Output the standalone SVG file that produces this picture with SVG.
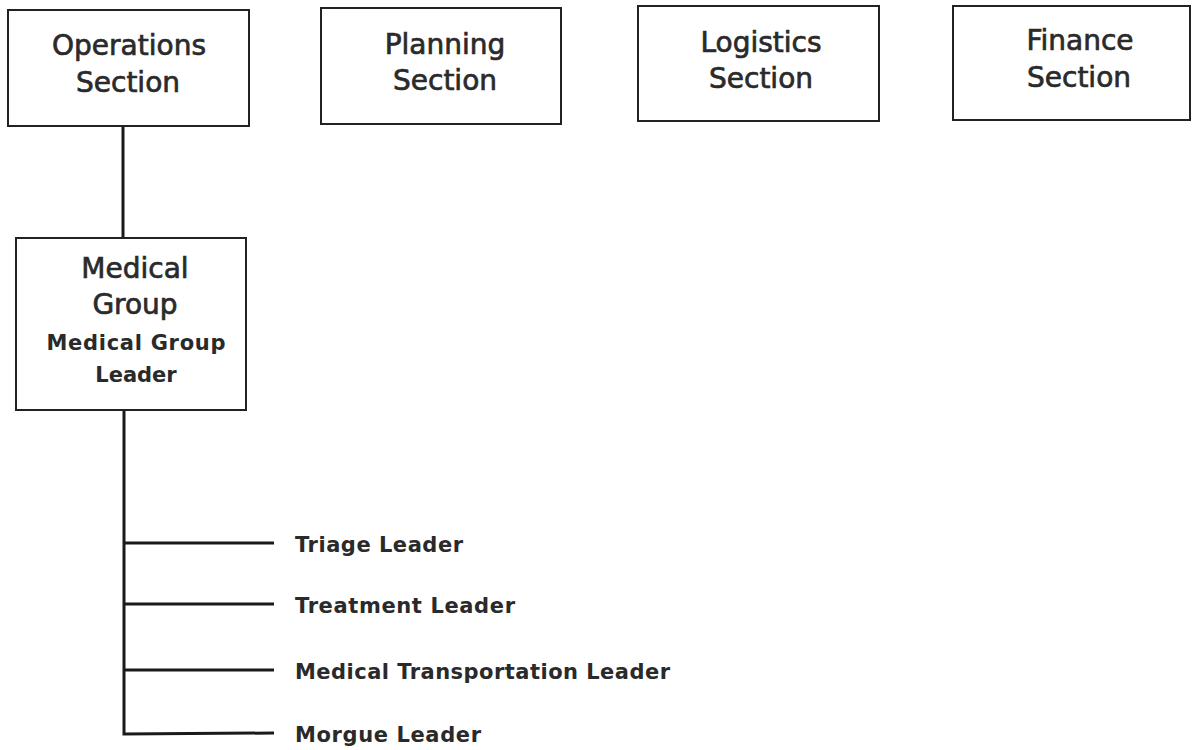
<svg xmlns="http://www.w3.org/2000/svg" width="1193" height="750" viewBox="0 0 1193 750">
<style>
.box{fill:#fff;stroke:#222;stroke-width:2}
.h{font-family:"DejaVu Sans",sans-serif;font-size:28px;fill:#2a2a2a;text-anchor:middle;stroke:#2a2a2a;stroke-width:0.7}
.m{font-family:"DejaVu Sans",sans-serif;font-size:21px;font-weight:bold;fill:#2a2a2a;text-anchor:middle}
.l{font-family:"DejaVu Sans",sans-serif;font-size:21px;font-weight:bold;fill:#2a2a2a}
.c{stroke:#1a1a1a;stroke-width:3;fill:none}
</style>
<rect width="1193" height="750" fill="#fff"/>
<g id="connectors">
<line class="c" x1="123" y1="126" x2="123" y2="238"/>
<polyline class="c" points="124,410 124,734 274,733"/>
<line class="c" x1="124" y1="543" x2="274" y2="543"/>
<line class="c" x1="124" y1="604" x2="274" y2="604"/>
<line class="c" x1="124" y1="670" x2="274" y2="670"/>
</g>
<g id="operations">
<rect class="box" x="8" y="10" width="241" height="116"/>
<text class="h" x="129" y="55">Operations</text>
<text class="h" x="128" y="92">Section</text>
</g>
<g id="planning">
<rect class="box" x="321" y="8" width="240" height="116"/>
<text class="h" x="445" y="54">Planning</text>
<text class="h" x="445" y="90">Section</text>
</g>
<g id="logistics">
<rect class="box" x="638" y="6" width="241" height="115"/>
<text class="h" x="761" y="52">Logistics</text>
<text class="h" x="761" y="88">Section</text>
</g>
<g id="finance">
<rect class="box" x="953" y="6" width="237" height="114"/>
<text class="h" x="1080" y="50">Finance</text>
<text class="h" x="1079" y="87">Section</text>
</g>
<g id="medical-group">
<rect class="box" x="16" y="238" width="230" height="172"/>
<text class="h" x="135" y="278">Medical</text>
<text class="h" x="135" y="314">Group</text>
<text class="m" x="136" y="350" textLength="179">Medical Group</text>
<text class="m" x="136" y="382">Leader</text>
</g>
<g id="triage"><text class="l" x="295" y="552" textLength="168">Triage Leader</text></g>
<g id="treatment"><text class="l" x="295" y="613" textLength="220">Treatment Leader</text></g>
<g id="transport"><text class="l" x="295" y="679" textLength="375">Medical Transportation Leader</text></g>
<g id="morgue"><text class="l" x="295" y="742" textLength="186">Morgue Leader</text></g>
</svg>
